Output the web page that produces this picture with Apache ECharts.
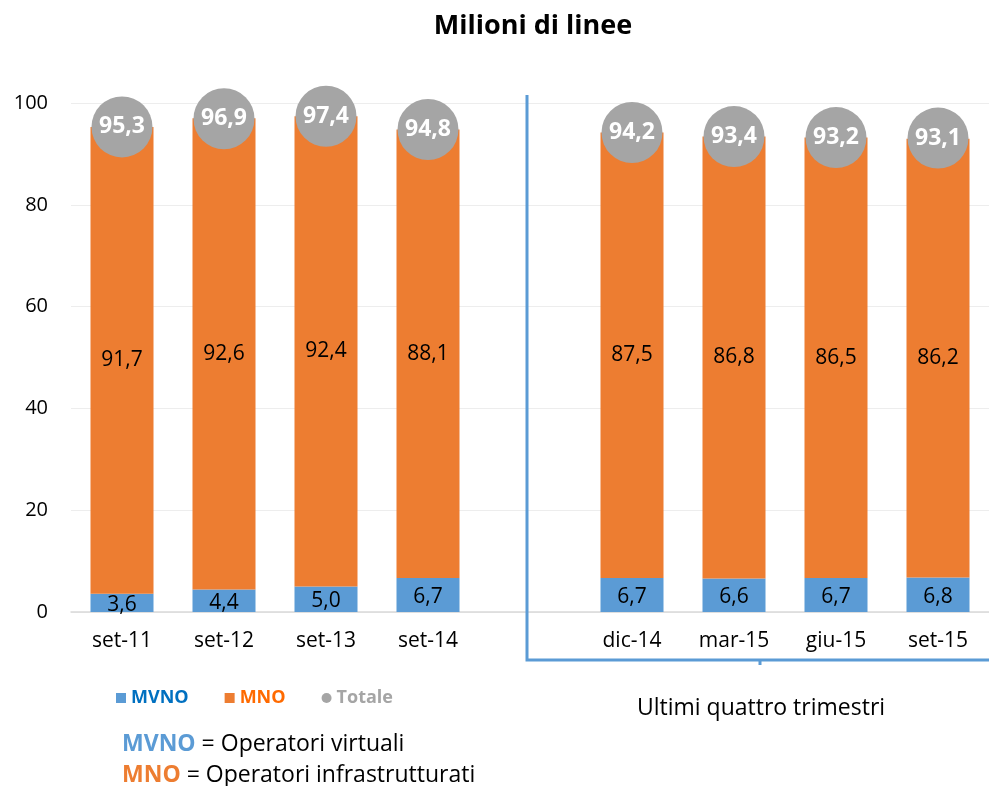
<!DOCTYPE html>
<html>
<head>
<meta charset="utf-8">
<script src="https://cdn.jsdelivr.net/npm/echarts@6/dist/echarts.min.js"></script>
<style>
  html, body { margin: 0; padding: 0; background: #fff; }
  #chart { width: 989px; height: 786px; }
</style>
</head>
<body>
<div id="chart"></div>
<script>
// Quarters (an empty slot separates the yearly columns from the last four quarters)
const categories = ['set-11', 'set-12', 'set-13', 'set-14', '', 'dic-14', 'mar-15', 'giu-15', 'set-15'];
const mvno   = [3.6, 4.4, 5.0, 6.7, null, 6.7, 6.6, 6.7, 6.8];
const mno    = [91.7, 92.6, 92.4, 88.1, null, 87.5, 86.8, 86.5, 86.2];
const totale = [95.3, 96.9, 97.4, 94.8, null, 94.2, 93.4, 93.2, 93.1];
const yTicks = [0, 20, 40, 60, 80, 100];

const FONT = '"Open Sans", "Noto Sans", sans-serif';
const BLUE = '#5B9BD5';
const ORANGE = '#ED7D31';
const GREY = '#A5A5A5';

const fmt = v => (v == null ? '' : Number(v).toFixed(1).replace('.', ','));
const toData = arr => arr.map(v => (v == null ? '-' : v));

const chart = echarts.init(document.getElementById('chart'), null, { renderer: 'canvas' });

chart.setOption({
  backgroundColor: '#ffffff',
  animation: false,
  textStyle: { fontFamily: FONT },
  title: {
    text: 'Milioni di linee',
    left: 528,
    top: 8,
    textAlign: 'center',
    textStyle: { fontFamily: FONT, fontSize: 27, fontWeight: 'bold', color: '#000' }
  },
  legend: {
    left: 111,
    top: 684,
    itemWidth: 10,
    itemHeight: 10,
    itemGap: 36,
    textStyle: { fontFamily: FONT, fontSize: 18, fontWeight: 'bold' },
    data: [
      { name: 'MVNO', icon: 'rect', textStyle: { color: '#0070C0' } },
      { name: 'MNO', icon: 'rect', textStyle: { color: '#FF6A00' } },
      { name: 'Totale', icon: 'circle', textStyle: { color: GREY } }
    ]
  },
  grid: { left: 71, right: 0, top: 103, bottom: 174, containLabel: false },
  xAxis: {
    type: 'category',
    data: categories,
    axisLine: { lineStyle: { color: '#D9D9D9', width: 1.5 } },
    axisTick: { show: false },
    axisLabel: { color: '#000', fontFamily: FONT, fontSize: 21, margin: 19, interval: 0 }
  },
  yAxis: {
    type: 'value',
    min: 0,
    max: 100,
    interval: 20,
    axisLine: { show: false },
    axisTick: { show: false },
    splitLine: { lineStyle: { color: '#EDEDED', width: 1 } },
    axisLabel: {
      color: '#000', fontFamily: FONT, fontSize: 20, margin: 23,
      formatter: v => (yTicks.includes(v) ? String(v) : '')
    }
  },
  series: [
    {
      name: 'MVNO',
      type: 'bar',
      stack: 'linee',
      barWidth: 63,
      data: toData(mvno),
      itemStyle: { color: BLUE },
      label: {
        show: true, position: 'inside', offset: [0, 2], color: '#000',
        fontFamily: FONT, fontSize: 21,
        formatter: p => fmt(p.value)
      }
    },
    {
      name: 'MNO',
      type: 'bar',
      stack: 'linee',
      barWidth: 63,
      data: toData(mno),
      itemStyle: { color: ORANGE },
      label: {
        show: true, position: 'inside', color: '#000',
        fontFamily: FONT, fontSize: 21,
        formatter: p => fmt(p.value)
      }
    },
    {
      name: 'Totale',
      type: 'scatter',
      symbol: 'circle',
      symbolSize: 61,
      data: toData(totale),
      itemStyle: { color: GREY, opacity: 1 },
      z: 5,
      label: {
        show: true, position: 'inside', color: '#fff',
        fontFamily: FONT, fontSize: 23, fontWeight: 'bold',
        formatter: p => fmt(p.value)
      }
    }
  ],
  graphic: [
    // bracket around the last four quarters
    {
      type: 'polyline',
      shape: { points: [[527, 95], [527, 660], [989, 660]] },
      style: { stroke: BLUE, lineWidth: 3, fill: null },
      z: 10
    },
    {
      type: 'line',
      shape: { x1: 760, y1: 660, x2: 760, y2: 665 },
      style: { stroke: BLUE, lineWidth: 3 },
      z: 10
    },
    {
      type: 'text',
      x: 761, y: 708,
      style: {
        text: 'Ultimi quattro trimestri',
        fill: '#000', font: '23px ' + FONT,
        textAlign: 'center', textVerticalAlign: 'middle'
      }
    },
    {
      type: 'text',
      x: 122, y: 744,
      style: {
        text: '{b|MVNO} = Operatori virtuali',
        textVerticalAlign: 'middle',
        font: '23px ' + FONT,
        fill: '#000',
        rich: {
          b: { fill: BLUE, fontWeight: 'bold', fontSize: 23, fontFamily: FONT }
        }
      }
    },
    {
      type: 'text',
      x: 122, y: 775,
      style: {
        text: '{o|MNO} = Operatori infrastrutturati',
        textVerticalAlign: 'middle',
        font: '23px ' + FONT,
        fill: '#000',
        rich: {
          o: { fill: ORANGE, fontWeight: 'bold', fontSize: 23, fontFamily: FONT }
        }
      }
    }
  ]
});
</script>
</body>
</html>
